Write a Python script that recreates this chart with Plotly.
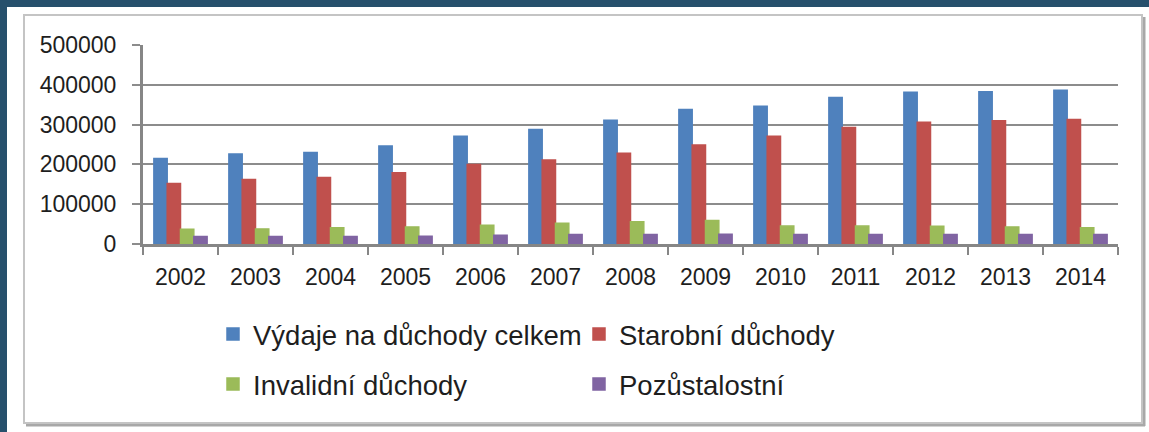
import plotly.graph_objects as go

years = ['2002', '2003', '2004', '2005', '2006', '2007', '2008', '2009', '2010', '2011', '2012', '2013', '2014']
celkem = [215000, 226000, 230000, 246000, 271000, 288000, 311000, 338000, 346000, 368000, 381500, 382500, 386000]
starobni = [152000, 162000, 167000, 179000, 200000, 211000, 228000, 249000, 271000, 293000, 306000, 309500, 313000]
invalidni = [37000, 38000, 41000, 43000, 47000, 52000, 56000, 59000, 45000, 45000, 44500, 43000, 41000]
pozustalostni = [19000, 19000, 19000, 19500, 22000, 24000, 24000, 24500, 24000, 24000, 24000, 24000, 24000]

names = ['Výdaje na důchody celkem', 'Starobní důchody', 'Invalidní důchody', 'Pozůstalostní']
colors = ['#4F81BD', '#C0504D', '#9BBB59', '#8064A2']
series = [celkem, starobni, invalidni, pozustalostni]
legends = ['legend', 'legend', 'legend2', 'legend2']

FONT = 'Liberation Sans, Arial, sans-serif'
TXT = '#1e1e1e'

W, H = 1149, 432
L, R, T, B = 143, 31, 45, 188
PW, PH = W - L - R, H - T - B

def px_x(p):
    return (p - L) / PW

def px_y(p):
    return (H - B - p) / PH

fig = go.Figure()
for name, vals, col, lg in zip(names, series, colors, legends):
    fig.add_trace(go.Bar(x=years, y=vals, name=name,
                         marker=dict(color=col, line=dict(width=1.5, color=col)),
                         legend=lg))

shapes = [
    dict(type='rect', xref='paper', yref='paper', x0=px_x(7), x1=px_x(1160), y0=px_y(440), y1=px_y(7),
         fillcolor='white', line=dict(width=0), layer='below'),
    dict(type='line', xref='paper', yref='paper', x0=px_x(1144), x1=px_x(1144), y0=px_y(426), y1=px_y(17),
         line=dict(color='#a8a8a8', width=3), layer='below'),
    dict(type='line', xref='paper', yref='paper', x0=px_x(26), x1=px_x(1145), y0=px_y(425), y1=px_y(425),
         line=dict(color='#a8a8a8', width=3), layer='below'),
    dict(type='rect', xref='paper', yref='paper', x0=px_x(24), x1=px_x(1142), y0=px_y(423), y1=px_y(15),
         fillcolor='rgba(0,0,0,0)', line=dict(color='#c4c4c4', width=2), layer='below'),
]

fig.update_layout(
    width=W, height=H,
    margin=dict(l=L, r=R, t=T, b=B),
    paper_bgcolor='#27506c',
    plot_bgcolor='rgba(0,0,0,0)',
    barmode='group', bargap=0.29, bargroupgap=0,
    font=dict(family=FONT, color=TXT, size=23),
    shapes=shapes,
    showlegend=True,
    legend=dict(orientation='h', xref='container', yref='container',
                x=213 / W, y=1 - 334 / H, xanchor='left', yanchor='middle',
                entrywidth=321, entrywidthmode='pixels',
                font=dict(family=FONT, size=27.5, color=TXT), bgcolor='rgba(0,0,0,0)'),
    legend2=dict(orientation='h', xref='container', yref='container',
                 x=213 / W, y=1 - 384 / H, xanchor='left', yanchor='middle',
                 entrywidth=321, entrywidthmode='pixels',
                 font=dict(family=FONT, size=27.5, color=TXT), bgcolor='rgba(0,0,0,0)'),
    xaxis=dict(type='category', showgrid=False, showline=True, linecolor='#868686', linewidth=3,
               ticks='outside', tickson='boundaries', ticklen=8, tickwidth=2, tickcolor='#868686',
               tickfont=dict(family=FONT, size=23, color=TXT), ticklabelstandoff=10),
    yaxis=dict(range=[0, 500000], tickvals=[0, 100000, 200000, 300000, 400000, 500000],
               tickformat='d', showgrid=True, gridcolor='#8c8c8c', gridwidth=2,
               showline=True, linecolor='#868686', linewidth=3, zeroline=False,
               ticks='outside', ticklen=8, tickwidth=2, tickcolor='#8c8c8c',
               tickfont=dict(family=FONT, size=23, color=TXT), ticklabelstandoff=11),
)

fig.write_html('out.html', config={'displayModeBar': False},
               post_script="document.body.style.margin='0';document.body.style.overflow='hidden';")
